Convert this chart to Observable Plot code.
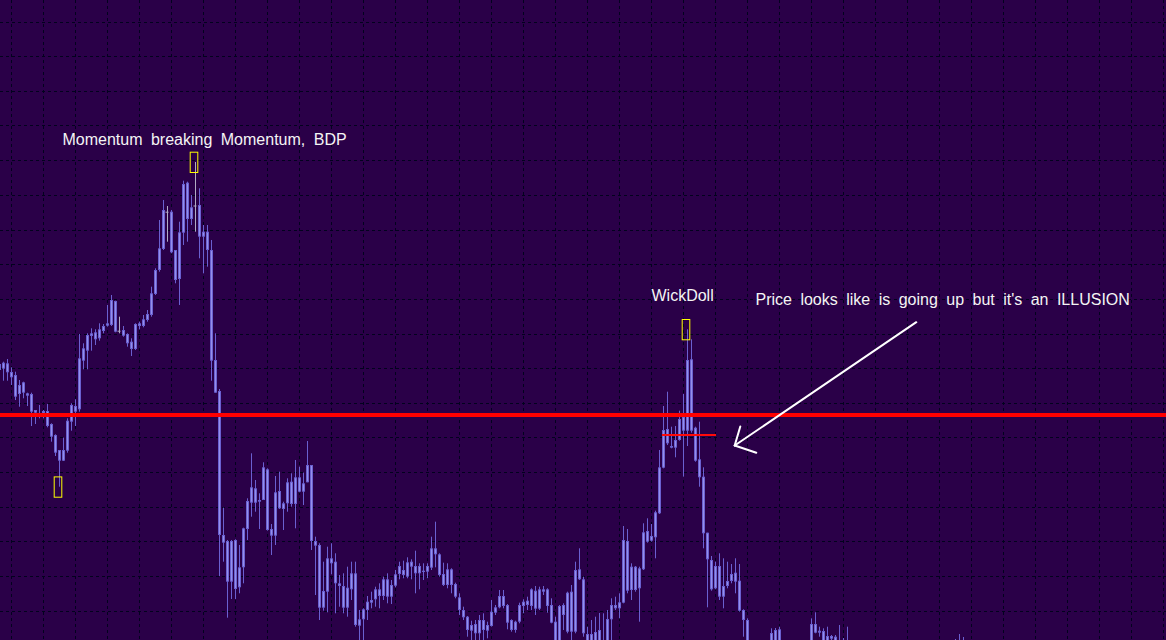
<!DOCTYPE html>
<html>
<head>
<meta charset="utf-8">
<script src="https://cdn.jsdelivr.net/npm/d3@7"></script>
<script src="https://cdn.jsdelivr.net/npm/@observablehq/plot@0.6"></script>
<style>
  html, body { margin: 0; padding: 0; background: #2a0048; overflow: hidden; }
  #chart svg { display: block; }
</style>
</head>
<body>
<div id="chart"></div>
<script>
// ---- bar indices (left to right; bars that fall below the visible window are omitted)
const bars = d3.range(-1, 187).concat([192, 193, 194, 202, 203, 204, 205, 206, 207, 208, 209, 210, 211, 238, 239, 240]);

// ---- OHLC prices (chart price units)
const open = [
  270, 277.3, 276.7, 268, 265, 246, 257.7, 246.7, 246, 230,
  226, 229, 229, 216, 205, 190, 179.3, 189.3, 218.3, 228.3,
  230.7, 279.3, 289.3, 304, 300.7, 301.7, 309, 314.3, 315, 339,
  309.3, 310, 306, 298.3, 291, 314, 314, 320, 325, 346,
  370, 391, 428.3, 428.3, 390, 361, 407.3, 457.3, 421, 434.5,
  435, 403.3, 408.3, 390, 280, 249, 105, 99, 58.3, 100,
  52.7, 72.7, 111, 137.3, 151.7, 138.3, 140, 170.7, 111, 104.3,
  149, 131, 136.7, 158.3, 136, 162.7, 148.3, 157.7, 175, 99,
  95, 32.3, 48.3, 81.7, 78.3, 56.7, 54, 32.3, 50.7, 66.7,
  14.3, 20.7, 30, 37.3, 40.7, 50.7, 44, 60.7, 43.3, 54.3,
  66, 70, 63.3, 78.3, 74, 66.7, 69.3, 68.3, 72.3, 91.7,
  85.7, 66, 55, 70.7, 56, 42.7, 30, 23.3, 9.3, 16,
  6.7, 20, 9.3, 14, 27.3, 32.7, 44, 35, 20, 10,
  18.3, 34, 35, 34, 49.3, 31.3, 50.7, 50.7, 35, 18.3,
  -2, 25, 47.3, 8.3, 8.3, 70.7, 60.7, 6, -3, 8,
  -3, -2, -3, 20.7, 35, 31.7, 37.3, 99, 50, 73.3,
  51.7, 70.7, 109, 99.3, 102.7, 126.7, 172.3, 211, 194, 192.3,
  200, 223.3, 209.3, 280.7, 212.3, 180.7, 163.3, 107.3, 80, 51.7,
  74, 43.3, 54, 59, 67.3, 59.3, 30, 20,
  -3, -3, 10.7, -3, 16, 7.3, 9, -3, 4, 3.3,
  -8, -10, -8, -10, -8, -9
];
const high = [
  278, 278.3, 281, 272.7, 268.3, 260, 258.3, 247.3, 247.3, 230,
  235, 230, 236, 216.7, 205.7, 190, 202.3, 221.7, 236.7, 240.7,
  306, 296.7, 306.7, 311.7, 310.7, 316.7, 316, 335, 345, 339.3,
  323.3, 314, 306.7, 301.7, 316.7, 318.3, 325, 330, 353.3, 371.7,
  420, 440, 434, 430, 390, 418.3, 459.3, 458.3, 445, 478,
  451.7, 415, 415, 400, 306.7, 251, 132.3, 100, 100, 100.7,
  95, 112.3, 141.7, 186.7, 160, 146.7, 177.7, 171.7, 116, 164,
  168.3, 138.3, 161.7, 166.7, 180, 173.3, 167.3, 199, 175, 103.3,
  96.7, 78.3, 93.3, 96.7, 86.7, 65, 66.7, 73.3, 78.3, 78.3,
  30, 31.7, 44, 48.3, 53.3, 56.7, 63.3, 66.7, 60, 70,
  78.3, 79.3, 82.7, 80.7, 89.3, 76.7, 76.7, 76.7, 103.3, 118.3,
  86.7, 77.3, 76.7, 71.7, 57.3, 46.7, 33.3, 24, 19.3, 20,
  25, 26.7, 18.3, 40, 35, 50, 50, 36, 20.7, 19.3,
  37.3, 40.7, 43.3, 51.7, 54, 53.3, 54, 51.7, 41.7, 23.3,
  35, 36.7, 48.3, 55, 78.3, 91.7, 63.3, 13.3, 20, 23.3,
  27, 26.7, 30, 41.7, 43.3, 46.7, 114, 111, 76.7, 74,
  73.3, 116.7, 121.7, 116, 129.3, 190, 234, 248.3, 213.3, 214,
  229.3, 246, 310.7, 300.7, 213.3, 218.3, 172.7, 107.3, 84, 78.3,
  86.7, 81.7, 78.3, 76, 81.7, 76, 30.7, 21.7,
  11.7, 12, 13.3, 21.7, 27.7, 13.3, 11.7, 13.3, 5, 5,
  15, 2, 13.3, 1, 6, 3
];
const low = [
  262, 259.3, 259.3, 255, 240, 233.3, 241.7, 234, 214, 216,
  221.7, 221.7, 212.7, 198.3, 184, 153.3, 179, 187.3, 209.3, 214,
  228.3, 270.7, 270.7, 289.3, 295, 299.3, 306.7, 313.3, 314, 307.7,
  306.7, 303.3, 293.3, 284, 290, 310.7, 312.7, 318.3, 323.3, 345,
  368.3, 390, 398.3, 386.7, 356.7, 335, 395, 398.3, 415, 408.3,
  381.7, 366.7, 373.3, 259.3, 247.3, 64, 78.3, 22.3, 41, 41,
  46.7, 56.7, 100, 123.3, 128.3, 111, 140, 109.3, 85, 95,
  131, 110, 128.3, 133.3, 111.7, 147.7, 135, 157.7, 90, 45,
  20, 29.3, 27.7, 65.7, 26.7, 33.3, 26.7, 23.3, 40, 13.3,
  -5, -5, 20, 31.7, 33.3, 31.7, 40, 36.7, 36, 52.7,
  60.7, 61.7, 61.7, 60.7, 46.7, 50.7, 60, 61.7, 70, 72.7,
  63.3, 54, 51.7, 46.7, 41.7, 25, 20, 3.3, -3, -3,
  -3, -3, 1.7, 13.3, 25, 31.7, 31.7, 10.7, 8.3, 7.3,
  16.7, 26.7, 30, 30, 25, 30, 45, 27.3, 16.7, -5,
  -5, 10, 6.7, -2, 6.7, 60, 3.3, -5, -5, -5,
  -5, -8, -5, -2, 30, 21.7, 36.7, 46.7, 40, 48.3,
  18.3, 70, 97.3, 98.3, 81.7, 126, 171.7, 195, 191.7, 182.7,
  199.3, 163.3, 194, 207.3, 178.3, 153.3, 91.7, 32.7, 49.3, 50.7,
  40, 31.7, 51.7, 56.7, 46.7, 28.3, 3.3, -5,
  -5, -5, -5, -5, 6.7, 3.3, -5, -5, -3, -5,
  -12, -14, -12, -14, -12, -12
];
const close = [
  276, 271.3, 267.7, 262.7, 243.3, 255, 247.3, 244.3, 228.3, 227.3,
  227, 226.7, 214, 203.3, 187.3, 179.3, 190, 219.3, 235, 234,
  281.7, 291.7, 305, 306.7, 307.7, 310.7, 314, 316.7, 340, 308.3,
  309.3, 304.3, 296.7, 291, 316, 316.7, 320.7, 326, 346.7, 370,
  391.7, 430, 428.3, 387.7, 360, 407.7, 456, 421, 432.7, 434.5,
  403.3, 408.3, 390, 279.3, 247.3, 105, 97.3, 58.3, 99, 51,
  72.7, 111.7, 139, 152.7, 137.3, 140, 172.7, 110, 104.3, 147.7,
  131.7, 136.7, 157.7, 136, 162.7, 148.3, 156.7, 175, 99, 94.3,
  32.3, 49, 81.7, 76.7, 56.7, 54, 32.3, 52.3, 66.7, 15,
  20.7, 30.7, 38.3, 40, 50.7, 44, 60.7, 43.3, 55, 65.7,
  74, 65, 77.7, 73.3, 66.7, 74, 68, 74, 91.7, 85.7,
  65, 55, 70.7, 55, 43.3, 30, 22.7, 10, 15, 6.7,
  20, 10, 15, 28.3, 32.7, 44, 34, 17.3, 10, 18.3,
  35, 38.3, 39.3, 50.7, 31.3, 50.7, 48.3, 34, 17.3, -2,
  34, 35, 8.3, 48.3, 70, 60.7, 6.7, -3, 6, -3,
  10, -6, 21, 35, 31.7, 37.7, 100, 49.3, 73.3, 50,
  71.7, 107.7, 98.3, 104, 127.7, 172.7, 210, 196.7, 192.3, 200,
  221, 209.3, 280, 209.3, 179.3, 162.7, 106.7, 80.7, 50.7, 74,
  43.3, 54, 59, 66, 58.3, 29.3, 20, -3,
  7, 10, -3, 16, 7.3, 9.3, -3, 4, 1.3, -3,
  -4, -6, -4, -6, -4, -5
];

// ---- grid levels (price) and time grid (bar index)
const priceGrid = [618, 584, 549, 515, 480, 445, 410, 376, 341, 306, 272, 237, 203, 168, 133, 99, 64, 29];
const timeGrid = d3.range(2, 291, 8);

// ---- drawn objects
const resistanceLevel = 225.5;
const shortLevel = {price: 205.5, fromBar: 164.75, toBar: 178.25};
const markedBars = [48, 14, 171];
const markedSide = ["high", "low", "high"];
const labelText = ["Momentum breaking Momentum, BDP", "WickDoll", "Price looks like is going up but it's an ILLUSION"];
const labelBar = [14.75, 162, 188];
const labelPrice = [501, 345, 341];
// arrow: tail, tip, barb 1, barb 2
const arrowBar = [228.2, 182.8, 184.2, 188.2];
const arrowPrice = [318.3, 195, 214, 187.7];

// ---- build tables
const candles = bars.map((k, i) => ({k, o: open[i], h: high[i], l: low[i], c: close[i]}));
const byBar = new Map(candles.map(d => [d.k, d]));
const isDoji = d => d.o === d.c;
const markers = markedBars.map((k, i) => {
  const d = byBar.get(k);
  return {k, p: markedSide[i] === "high" ? d.h : d.l};
});
const labels = labelText.map((t, i) => ({t, x: labelBar[i], y: labelPrice[i]}));
const arrowSegs = [[0, 1], [1, 2], [1, 3]].map(([a, b]) => ({
  x1: arrowBar[a], y1: arrowPrice[a], x2: arrowBar[b], y2: arrowPrice[b]
}));

const BG = "#2a0048";
const GRID = "#02021e";
const BORDER = "#6a60d0";
const INNER = "#9590ea";
const DOJI = "#b0acc4";

const chart = Plot.plot({
  width: 1166,
  height: 640,
  margin: 0,
  x: {type: "linear", domain: [-0.75, 290.75], axis: null},
  y: {type: "linear", domain: [0, 640], axis: null},
  style: {background: BG, fontFamily: "'Liberation Sans', Arial, sans-serif", wordSpacing: "4px"},
  marks: [
    Plot.ruleY(priceGrid, {stroke: GRID, strokeDasharray: "3,3", strokeWidth: 1}),
    Plot.ruleX(timeGrid, {stroke: GRID, strokeDasharray: "3,3", strokeWidth: 1}),
    // wicks
    Plot.ruleX(candles, {x: "k", y1: "l", y2: "h", stroke: d => isDoji(d) ? DOJI : BORDER, strokeWidth: 1}),
    // bodies
    Plot.ruleX(candles.filter(d => !isDoji(d)), {x: "k", y1: "o", y2: "c", stroke: BORDER, strokeWidth: 3}),
    Plot.ruleX(candles.filter(d => !isDoji(d) && Math.abs(d.o - d.c) > 2), {
      x: "k", y1: d => Math.min(d.o, d.c) + 1, y2: d => Math.max(d.o, d.c) - 1, stroke: INNER, strokeWidth: 1
    }),
    // doji crosses
    Plot.ruleY(candles.filter(isDoji), {x1: d => d.k - 0.375, x2: d => d.k + 0.375, y: "o", stroke: DOJI, strokeWidth: 1}),
    // horizontal levels
    Plot.ruleY([resistanceLevel], {stroke: "#ff0000", strokeWidth: 4}),
    Plot.ruleY([shortLevel], {x1: "fromBar", x2: "toBar", y: "price", stroke: "#ff0a0a", strokeWidth: 2}),
    // yellow markers
    Plot.rect(markers, {x1: d => d.k - 1.2, x2: d => d.k + 0.7, y1: d => d.p - 10.5, y2: d => d.p + 9.8,
      fill: "none", stroke: "#ffff00", strokeWidth: 1}),
    // arrow
    Plot.link(arrowSegs, {x1: "x1", y1: "y1", x2: "x2", y2: "y2", stroke: "#ffffff", strokeWidth: 2, strokeLinecap: "round"}),
    // labels
    Plot.text(labels, {x: "x", y: "y", text: "t", textAnchor: "start", lineAnchor: "middle",
      fontSize: 16, fill: "#f4f4f4", fontFamily: "'Liberation Sans', Arial, sans-serif"})
  ]
});
document.getElementById("chart").appendChild(chart);
</script>
</body>
</html>
